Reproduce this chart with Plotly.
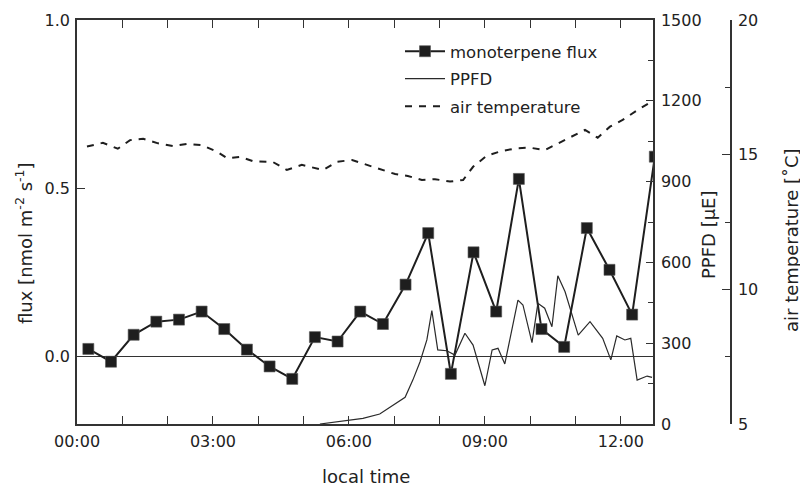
import plotly.graph_objects as go

# ---------------- data ----------------
flux_time_h = [0.25, 0.75, 1.25, 1.75, 2.25, 2.75, 3.25, 3.75, 4.25, 4.75,
               5.25, 5.75, 6.25, 6.75, 7.25, 7.75, 8.25, 8.75, 9.25, 9.75,
               10.25, 10.75, 11.25, 11.75, 12.25, 12.75]
flux_values = [0.023, -0.015, 0.065, 0.104, 0.110, 0.134, 0.082, 0.021, -0.029, -0.066,
               0.058, 0.045, 0.134, 0.097, 0.214, 0.367, -0.051, 0.310, 0.134, 0.528,
               0.082, 0.029, 0.382, 0.258, 0.125, 0.594]

ppfd_time_h = [5.36, 5.98, 6.31, 6.68, 6.97, 7.24, 7.41, 7.57, 7.72, 7.83,
               7.96, 8.16, 8.34, 8.56, 8.74, 9.00, 9.16, 9.29, 9.44, 9.73,
               9.84, 10.04, 10.17, 10.32, 10.48, 10.61, 10.77, 11.06, 11.32, 11.60,
               11.78, 11.91, 12.09, 12.22, 12.36, 12.58, 12.69]
ppfd_values = [0, 15, 21, 37, 70, 99, 163, 231, 312, 421,
               275, 272, 256, 337, 293, 142, 275, 281, 223, 460,
               442, 302, 448, 430, 361, 550, 491, 330, 380, 318,
               238, 327, 312, 318, 163, 178, 173]

temp_time_h = [0.22, 0.57, 0.90, 1.17, 1.46, 1.79, 2.12, 2.43, 2.76, 3.09,
               3.31, 3.60, 3.88, 4.32, 4.63, 4.96, 5.43, 5.74, 6.07, 6.40,
               6.73, 7.02, 7.30, 7.61, 7.90, 8.23, 8.52, 8.74, 9.04, 9.38,
               9.71, 9.99, 10.32, 10.61, 10.92, 11.21, 11.49, 11.76, 12.04, 12.37,
               12.68]
temp_values = [15.30, 15.44, 15.22, 15.54, 15.59, 15.42, 15.32, 15.40, 15.35, 15.11,
               14.87, 14.92, 14.76, 14.73, 14.43, 14.62, 14.43, 14.74, 14.80, 14.62,
               14.43, 14.28, 14.21, 14.06, 14.09, 14.00, 14.06, 14.55, 14.96, 15.14,
               15.24, 15.26, 15.17, 15.42, 15.67, 15.92, 15.63, 16.04, 16.29, 16.66,
               16.97]

x_tick_vals = [0, 3, 6, 9, 12]
x_tick_text = ["00:00", "03:00", "06:00", "09:00", "12:00"]
x_minor_vals = [1, 2, 4, 5, 7, 8, 10, 11]
flux_tick_vals = [0.0, 0.5, 1.0]
ppfd_tick_vals = [0, 300, 600, 900, 1200, 1500]
ppfd_minor_vals = [150, 450, 750, 1050, 1350]
temp_tick_vals = [5, 10, 15, 20]
temp_minor_vals = [7.5, 12.5, 17.5]

# ---------------- styling ----------------
FONT = "DejaVu Sans, Liberation Sans, sans-serif"
INK = "#1e1e1e"
AX = "#333333"
TXT = "#222222"

fig = go.Figure()

fig.add_trace(go.Scatter(
    x=temp_time_h, y=temp_values, yaxis="y3", mode="lines",
    name="air temperature", legendrank=3, legendgroup="c",
    line=dict(color=INK, width=2, dash="7px,7px"),
))
fig.add_trace(go.Scatter(
    x=ppfd_time_h, y=ppfd_values, yaxis="y2", mode="lines",
    name="PPFD", legendrank=2, legendgroup="b",
    line=dict(color="#2a2a2a", width=1.2),
))
fig.add_trace(go.Scatter(
    x=flux_time_h, y=flux_values, yaxis="y", mode="lines+markers",
    name="monoterpene flux", legendrank=1, legendgroup="a",
    line=dict(color=INK, width=2),
    marker=dict(symbol="square", size=11, color=INK, line=dict(color="#555", width=0.6)),
))

# The page body has an 8 px margin: the figure starts at screen (8, 8).
OFF = 8
W, H = 800, 479
# screen targets: plot area x 77..653, y 20..424; paper right edge at 768
ML = 77 - OFF
MT = 20 - OFF
MR = W - (768 - OFF)
MB = H - (424 - OFF)
pw = W - ML - MR
ph = H - MT - MB
x_end = (653 - 77) / pw
y3_pos = (731 - 77) / pw

def px_x(p):
    return (p - OFF - ML) / pw

def px_y(p):
    return (H - MB - (p - OFF)) / ph

TICK = 16
fig.update_layout(
    width=W, height=H,
    margin=dict(l=ML, r=MR, t=MT, b=MB, autoexpand=False),
    paper_bgcolor="white", plot_bgcolor="white",
    font=dict(family=FONT, size=TICK, color=TXT),
    showlegend=True,
    legend=dict(
        x=px_x(400), y=px_y(34), xanchor="left", yanchor="top",
        bgcolor="rgba(0,0,0,0)", borderwidth=0,
        font=dict(size=16.5, family=FONT, color=TXT),
        itemwidth=40, traceorder="grouped", tracegroupgap=3,
    ),
    xaxis=dict(
        domain=[0, x_end], range=[0, 12.71], automargin=False,
        tickmode="array", tickvals=x_tick_vals, ticktext=x_tick_text,
        ticks="inside", ticklen=8, tickwidth=1.3, tickcolor=AX,
        minor=dict(tickmode="array", tickvals=x_minor_vals, ticks="inside",
                   ticklen=4, tickwidth=1.3, tickcolor=AX),
        showline=True, linecolor=AX, linewidth=1.5, mirror="allticks",
        showgrid=False, zeroline=False,
        tickfont=dict(size=TICK), ticklabelstandoff=2,
    ),
    yaxis=dict(
        domain=[0, 1], range=[-0.2, 1.0], automargin=False,
        tickmode="array", tickvals=flux_tick_vals, tickformat=".1f",
        ticks="inside", ticklen=8, tickwidth=1.3, tickcolor=AX,
        showline=True, linecolor=AX, linewidth=1.5,
        showgrid=False, zeroline=True, zerolinecolor=AX, zerolinewidth=1.4,
        tickfont=dict(size=TICK), ticklabelstandoff=2,
    ),
    yaxis2=dict(
        overlaying="y", anchor="x", side="right", range=[0, 1500], automargin=False,
        tickmode="array", tickvals=ppfd_tick_vals,
        ticks="inside", ticklen=7, tickwidth=1.3, tickcolor=AX,
        minor=dict(tickmode="array", tickvals=ppfd_minor_vals, ticks="inside",
                   ticklen=5, tickwidth=1.3, tickcolor=AX),
        showline=True, linecolor=AX, linewidth=1.5,
        showgrid=False, zeroline=False,
        tickfont=dict(size=TICK), ticklabelstandoff=3,
    ),
    yaxis3=dict(
        overlaying="y", anchor="free", position=y3_pos, side="right", range=[5, 20],
        automargin=False,
        tickmode="array", tickvals=temp_tick_vals,
        ticks="inside", ticklen=8, tickwidth=1.3, tickcolor=AX,
        minor=dict(tickmode="array", tickvals=temp_minor_vals, ticks="inside",
                   ticklen=5, tickwidth=1.3, tickcolor=AX),
        showline=True, linecolor=AX, linewidth=1.5,
        showgrid=False, zeroline=False,
        tickfont=dict(size=TICK), ticklabelstandoff=3,
    ),
)

title_font = dict(family=FONT, size=18, color=TXT)
fig.add_annotation(text="local time", xref="paper", yref="paper",
                   x=px_x(366), y=px_y(476), xanchor="center", yanchor="middle",
                   showarrow=False, font=title_font)
fig.add_annotation(text="flux [nmol m<sup>-2</sup> s<sup>-1</sup>]", xref="paper", yref="paper",
                   x=px_x(24), y=px_y(243), xanchor="center", yanchor="middle",
                   textangle=-90, showarrow=False, font=title_font)
fig.add_annotation(text="PPFD [µE]", xref="paper", yref="paper",
                   x=px_x(708), y=px_y(235), xanchor="center", yanchor="middle",
                   textangle=-90, showarrow=False, font=title_font)
fig.add_annotation(text="air temperature [˚C]", xref="paper", yref="paper",
                   x=px_x(791), y=px_y(240), xanchor="center", yanchor="middle",
                   textangle=-90, showarrow=False, font=title_font)

fig.write_html("out.html")
